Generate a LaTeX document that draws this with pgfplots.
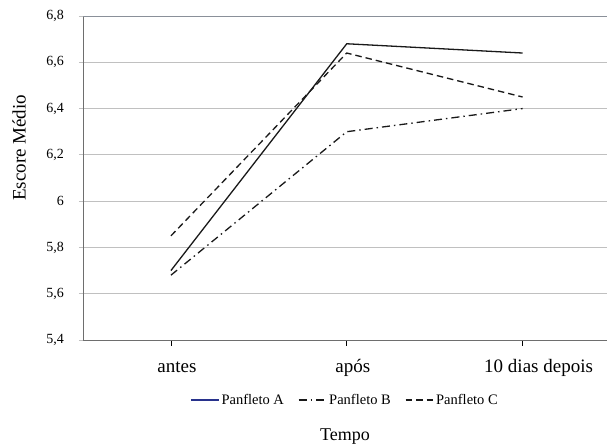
\documentclass[border=0pt]{standalone}
\usepackage{fontspec}
\setmainfont{Liberation Serif}
\usepackage{pgfplots}
\pgfplotsset{compat=1.18}
\definecolor{gridc}{RGB}{192,192,192}
\definecolor{axc}{RGB}{110,110,110}
\definecolor{topc}{RGB}{138,144,153}
\definecolor{navyA}{RGB}{40,50,140}
\definecolor{lc}{RGB}{25,25,25}
\begin{document}
\begin{tikzpicture}
\path[use as bounding box] (-83pt,-106pt) rectangle (524pt,340pt);
\begin{axis}[
  at={(0,0)}, anchor=south west,
  scale only axis, width=524pt, height=324pt,
  xmin=-0.5, xmax=2.48, ymin=5.4, ymax=6.8,
  xtick={0,1,2}, xticklabels={antes,após,\hspace{20pt}10 dias depois},
  ytick={5.4,5.6,5.8,6.0,6.2,6.4,6.6},
  extra y ticks={6.8},
  extra y tick style={grid style={topc, line width=0.8pt}},
  axis x line*=bottom, axis y line*=left,
  axis line style={axc, -, line width=0.8pt},
  ymajorgrids, grid style={gridc, line width=0.8pt},
  tick align=outside,
  xtick style={black, line width=0.8pt, /pgfplots/major tick length=6pt},
  ytick style={gridc, line width=0.8pt, /pgfplots/major tick length=4pt},
  /pgf/number format/.cd, use comma, fixed, precision=1, assume math mode=true,
  /pgfplots/.cd,
  yticklabel style={font=\fontsize{14}{16}\selectfont, anchor=east, inner sep=0pt, xshift=-14.7pt},
  xticklabel style={font=\fontsize{19}{21}\selectfont, anchor=base, inner sep=0pt, yshift=-28pt, xshift=6pt},
  ylabel={Escore Médio},
  ylabel style={at={(axis description cs:-0.122,0.593)}, anchor=center, font=\fontsize{19}{21}\selectfont},
  xlabel={Tempo},
  xlabel style={at={(axis description cs:0.5,-0.3117)}, anchor=base, font=\fontsize{18}{20}\selectfont},
  legend columns=3,
  legend style={draw=none, at={(0.5,-0.185)}, anchor=center,
    font=\fontsize{14.5}{16}\selectfont,
    /tikz/every even column/.append style={column sep=12pt}},
  legend image code/.code={\draw[#1] (0pt,0pt) -- (28pt,0pt);},
]
\addplot[lc, line width=1.3pt, forget plot] coordinates {(0,5.70) (1,6.68) (2,6.64)};
\addlegendimage{navyA, line width=1.3pt}
\addlegendentry{Panfleto A}
\addplot[lc, line width=1.3pt, dash pattern=on 8pt off 4pt on 1.5pt off 4pt] coordinates {(0,5.68) (1,6.30) (2,6.40)};
\addlegendentry{Panfleto B}
\addplot[lc, line width=1.3pt, dash pattern=on 6.5pt off 4pt] coordinates {(0,5.85) (1,6.64) (2,6.45)};
\addlegendentry{Panfleto C}
\end{axis}
\end{tikzpicture}
\end{document}
